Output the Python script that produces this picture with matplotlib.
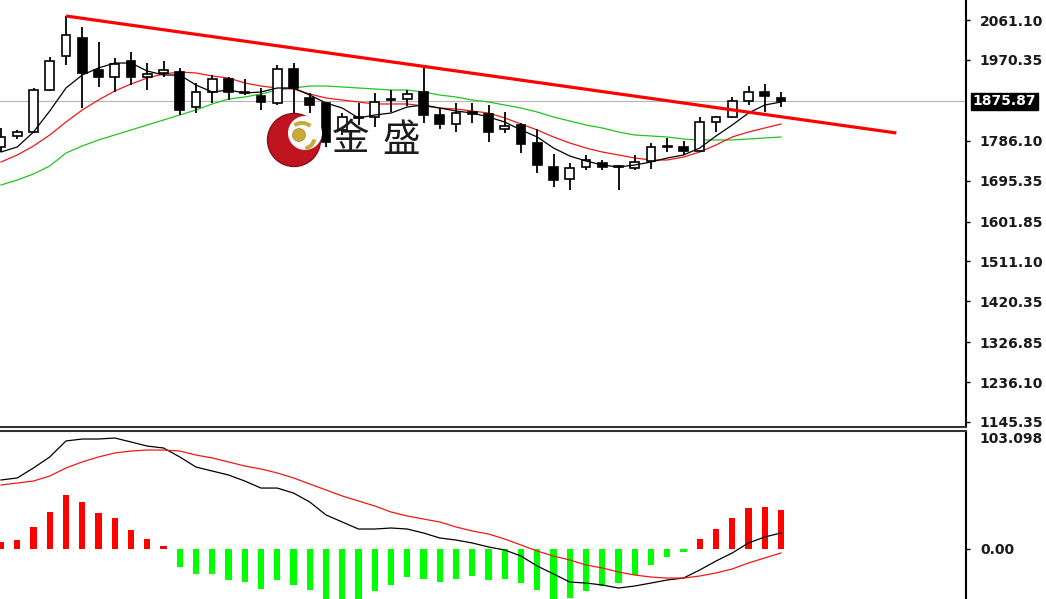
import matplotlib
matplotlib.use('Agg')
import matplotlib.pyplot as plt
from matplotlib.patches import Rectangle, Circle, Wedge
import matplotlib.transforms as mtransforms
import numpy as np

W, H = 1046, 599

# 日K线数据 (49根)
opens = [1771.8, 1796.9, 1806.0, 1901.6, 1979.1, 2020.1, 1947.2, 1931.3, 1967.7, 1931.3,
         1940.4, 1942.6, 1862.9, 1897.1, 1926.7, 1897.1, 1888.0, 1872.0, 1949.5, 1883.4,
         1872.0, 1810.5, 1840.1, 1840.1, 1878.9, 1881.1, 1897.1, 1844.7, 1824.2, 1851.5,
         1847.0, 1812.8, 1821.9, 1780.9, 1726.2, 1698.9, 1726.2, 1735.3, 1728.5, 1724.0,
         1739.9, 1771.8, 1771.8, 1762.7, 1828.7, 1840.1, 1876.6, 1897.1, 1883.4]
highs = [1815.1, 1810.5, 1906.2, 1976.8, 2070.2, 2045.2, 2011.0, 1974.5, 1988.2, 1963.1,
         1967.7, 1951.8, 1917.6, 1935.8, 1931.3, 1926.7, 1906.2, 1958.6, 1963.1, 1894.8,
         1874.3, 1849.2, 1872.0, 1894.8, 1901.6, 1901.6, 1951.8, 1860.6, 1872.0, 1872.0,
         1867.5, 1851.5, 1826.5, 1812.8, 1755.9, 1735.3, 1753.6, 1742.2, 1730.8, 1753.6,
         1780.9, 1792.3, 1785.5, 1840.1, 1842.4, 1885.7, 1910.7, 1915.3, 1897.1]
lows = [1760.4, 1790.0, 1803.7, 1899.4, 1958.6, 1860.6, 1908.5, 1897.1, 1913.0, 1901.6,
        1931.3, 1844.7, 1849.2, 1872.0, 1878.9, 1890.2, 1856.1, 1867.5, 1844.7, 1849.2,
        1771.8, 1799.1, 1821.9, 1817.4, 1851.5, 1865.2, 1826.5, 1812.8, 1806.0, 1826.5,
        1783.2, 1803.7, 1758.1, 1712.6, 1680.7, 1673.9, 1719.4, 1719.4, 1673.9, 1719.4,
        1721.7, 1760.4, 1753.6, 1760.4, 1806.0, 1837.9, 1867.5, 1851.5, 1862.9]
closes = [1794.6, 1806.0, 1901.6, 1967.7, 2026.9, 1940.4, 1931.3, 1960.9, 1931.3, 1938.1,
          1947.2, 1856.1, 1897.1, 1926.7, 1897.1, 1894.8, 1874.3, 1949.5, 1906.2, 1867.5,
          1783.2, 1840.1, 1837.9, 1874.3, 1881.1, 1892.5, 1844.7, 1824.2, 1849.2, 1847.0,
          1806.0, 1819.6, 1778.6, 1730.8, 1696.6, 1724.0, 1742.2, 1726.2, 1726.2, 1737.6,
          1771.8, 1774.1, 1762.7, 1828.7, 1840.1, 1876.6, 1897.1, 1888.0, 1875.87]

# 均线
ma_black = [1760.4, 1771.8, 1806.0, 1853.8, 1906.2, 1935.8, 1951.8, 1963.1, 1963.1, 1944.9,
            1935.8, 1935.8, 1913.0, 1897.1, 1901.6, 1894.8, 1897.1, 1906.2, 1906.2, 1890.2,
            1872.0, 1860.6, 1837.9, 1844.7, 1849.2, 1862.9, 1867.5, 1860.6, 1853.8, 1849.2,
            1840.1, 1828.7, 1810.5, 1794.6, 1769.5, 1751.3, 1739.9, 1730.8, 1726.2, 1730.8,
            1737.6, 1746.7, 1753.6, 1769.5, 1796.9, 1821.9, 1849.2, 1867.5, 1874.3]
ma_red = [1737.6, 1753.6, 1774.1, 1799.1, 1828.7, 1856.1, 1878.9, 1899.4, 1915.3, 1929.0,
          1938.1, 1942.6, 1940.4, 1933.5, 1929.0, 1917.6, 1910.7, 1906.2, 1903.9, 1892.5,
          1883.4, 1878.9, 1874.3, 1869.8, 1869.8, 1869.8, 1865.2, 1860.6, 1858.4, 1853.8,
          1849.2, 1837.9, 1824.2, 1810.5, 1794.6, 1780.9, 1769.5, 1760.4, 1753.6, 1746.7,
          1742.2, 1742.2, 1749.0, 1760.4, 1776.4, 1794.6, 1806.0, 1815.1, 1824.2]
ma_green = [1685.2, 1696.6, 1710.3, 1728.5, 1758.1, 1774.1, 1787.8, 1799.1, 1810.5, 1821.9,
            1833.3, 1844.7, 1856.1, 1869.8, 1881.1, 1885.7, 1892.5, 1901.6, 1906.2, 1910.7,
            1910.7, 1908.5, 1906.2, 1903.9, 1901.6, 1901.6, 1897.1, 1890.2, 1885.7, 1878.9,
            1874.3, 1867.5, 1860.6, 1851.5, 1840.1, 1831.0, 1821.9, 1815.1, 1806.0, 1799.1,
            1796.9, 1794.6, 1790.0, 1787.8, 1787.8, 1787.8, 1790.0, 1792.3, 1794.6]

# MACD
macd_hist = [6, 8, 19, 33, 48, 41, 32, 27, 17, 9,
             3, -16, -22, -22, -27, -29, -35, -27, -32, -36,
             -46, -46, -44, -37, -32, -25, -26, -29, -26, -24,
             -27, -26, -30, -36, -46, -43, -37, -33, -30, -23,
             -14, -7, -2.5, 9, 18, 27, 36, 37, 34]
macd_line = [60.8, 62.6, 71.4, 81.1, 95.2, 96.9, 96.9, 97.8, 94.3, 90.7,
             89.0, 81.1, 72.2, 68.7, 65.2, 59.9, 53.7, 53.7, 49.3, 41.4,
             30.0, 23.8, 17.6, 17.6, 18.5, 17.6, 14.1, 9.7, 7.9, 5.3,
             1.8, -0.9, -6.2, -15.0, -22.0, -29.1, -30.0, -31.7, -34.4, -32.6,
             -30.0, -27.3, -25.6, -18.5, -10.6, -3.5, 5.3, 10.6, 14.1]
macd_signal = [56.4, 58.1, 59.9, 64.3, 71.4, 76.7, 81.1, 84.6, 86.3, 87.2,
               87.2, 86.3, 82.8, 80.2, 76.7, 73.1, 70.5, 67.0, 62.6, 57.3,
               52.0, 46.7, 42.3, 37.9, 32.6, 29.1, 26.4, 23.8, 19.4, 15.9,
               13.2, 8.8, 3.5, -1.8, -6.2, -9.7, -14.1, -16.7, -20.3, -22.9,
               -24.7, -25.6, -25.6, -23.8, -21.1, -17.6, -12.3, -7.9, -3.5]

# 压力线
trend_x = [4, 55.1]
trend_y = [2070.2, 1803.7]

price_ticks = [2061.10, 1970.35, 1786.10, 1695.35, 1601.85, 1511.10,
               1420.35, 1326.85, 1236.10, 1145.35]
last_price = 1875.87
macd_top = 103.098

x = np.arange(len(opens))

fig = plt.figure(figsize=(W / 100, H / 100), dpi=100)
fig.patch.set_facecolor('white')
ax = fig.add_axes([0, 1 - 427 / H, 966 / W, 427 / H])
ax2 = fig.add_axes([0, 0, 966 / W, 168 / H], sharex=ax)

# K线
bw = 0.55
for i in range(len(opens)):
    o, h, l, c = opens[i], highs[i], lows[i], closes[i]
    ax.vlines(i, l, h, color='black', lw=1.3, zorder=3)
    up = c >= o
    ax.add_patch(Rectangle((i - bw / 2, min(o, c)), bw, max(abs(c - o), 0.5),
                           facecolor='white' if up else 'black', edgecolor='black',
                           lw=1.2, zorder=4))

ax.plot(x, ma_green, color='#22c422', lw=0.9, zorder=2)
ax.plot(x, ma_red, color='#f01818', lw=0.9, zorder=2)
ax.plot(x, ma_black, color='black', lw=0.9, zorder=5)
ax.plot(trend_x, trend_y, color='#ff0000', lw=2.3, zorder=6, solid_capstyle='butt')
ax.axhline(last_price, color='#b4b4b4', lw=0.8, zorder=1)

ax.set_xlim(-1 / 16.25, 965 / 16.25)
ax.set_ylim(2061.1 - 407 * 2.278, 2061.1 + 20 * 2.278)
ax.yaxis.tick_right()
ax.set_yticks(price_ticks)
ax.set_yticklabels(['%.2f' % v for v in price_ticks])
ax.tick_params(axis='y', direction='out', length=3, width=1, pad=7,
               labelsize=10, labelcolor='#1a1a1a')
ax.tick_params(axis='x', bottom=False, labelbottom=False)
for s in ['top', 'left']:
    ax.spines[s].set_visible(False)
ax.spines['right'].set_linewidth(1.5)
ax.spines['bottom'].set_linewidth(1.5)
ax.spines['bottom'].set_color('#333333')
for t in ax.get_yticklabels():
    t.set_fontweight('bold')

trans = mtransforms.blended_transform_factory(ax.transAxes, ax.transData)
ax.text(1.007, last_price, '%.2f' % last_price, transform=trans, ha='left', va='center',
        color='white', fontsize=10, fontweight='bold',
        bbox=dict(boxstyle='square,pad=0.12', fc='black', ec='black'))

# MACD 副图
cols = ['#ff0000' if v > 0 else '#00ff00' for v in macd_hist]
ax2.bar(x, macd_hist, width=0.37, color=cols, zorder=2)
ax2.plot(x, macd_line, color='black', lw=0.9, zorder=3)
ax2.plot(x, macd_signal, color='#f01818', lw=0.9, zorder=3)
ax2.set_ylim((549 - 599) / 1.135, (549 - 431) / 1.135)
ax2.yaxis.tick_right()
ax2.set_yticks([0, macd_top])
ax2.set_yticklabels(['0.00', '%.3f' % macd_top])
ax2.tick_params(axis='y', direction='out', length=3, width=1, pad=7,
                labelsize=10, labelcolor='#1a1a1a')
ax2.tick_params(axis='x', bottom=False, labelbottom=False)
for s in ['bottom', 'left']:
    ax2.spines[s].set_visible(False)
ax2.spines['right'].set_linewidth(1.5)
ax2.spines['top'].set_linewidth(1.5)
ax2.spines['top'].set_color('#333333')
labs = ax2.get_yticklabels()
for t in labs:
    t.set_fontweight('bold')
labs[1].set_va('top')
ax2.yaxis.get_major_ticks()[1].tick2line.set_visible(False)

# 金盛 logo
lg = fig.add_axes([266 / W, 1 - 170 / H, 58 / W, 60 / H])
lg.set_xlim(266, 324)
lg.set_ylim(170, 110)
lg.set_aspect('equal')
lg.axis('off')
lg.add_patch(Circle((294, 140), 26.5, fc='#c01520', ec='#8c0c12', lw=1))
lg.add_patch(Circle((305, 133), 17, fc='white', ec='none'))
lg.add_patch(Circle((299, 135), 6.5, fc='#c9a93a', ec='#a88a20', lw=0.5))
lg.add_patch(Wedge((302, 136), 15, -125, -50, width=4, fc='#c9a93a', ec='none'))
lg.add_patch(Wedge((302, 136), 15, 15, 75, width=4, fc='#c9a93a', ec='none'))

fig.text(351 / W, 1 - 140 / H, '金', fontsize=27, color='#1c1c1c',
         family=['Noto Sans CJK SC', 'DejaVu Sans'], ha='center', va='center')
fig.text(401 / W, 1 - 140 / H, '盛', fontsize=27, color='#1c1c1c',
         family=['Noto Sans CJK SC', 'DejaVu Sans'], ha='center', va='center')

fig.savefig('out.png', dpi=100, facecolor='white')
